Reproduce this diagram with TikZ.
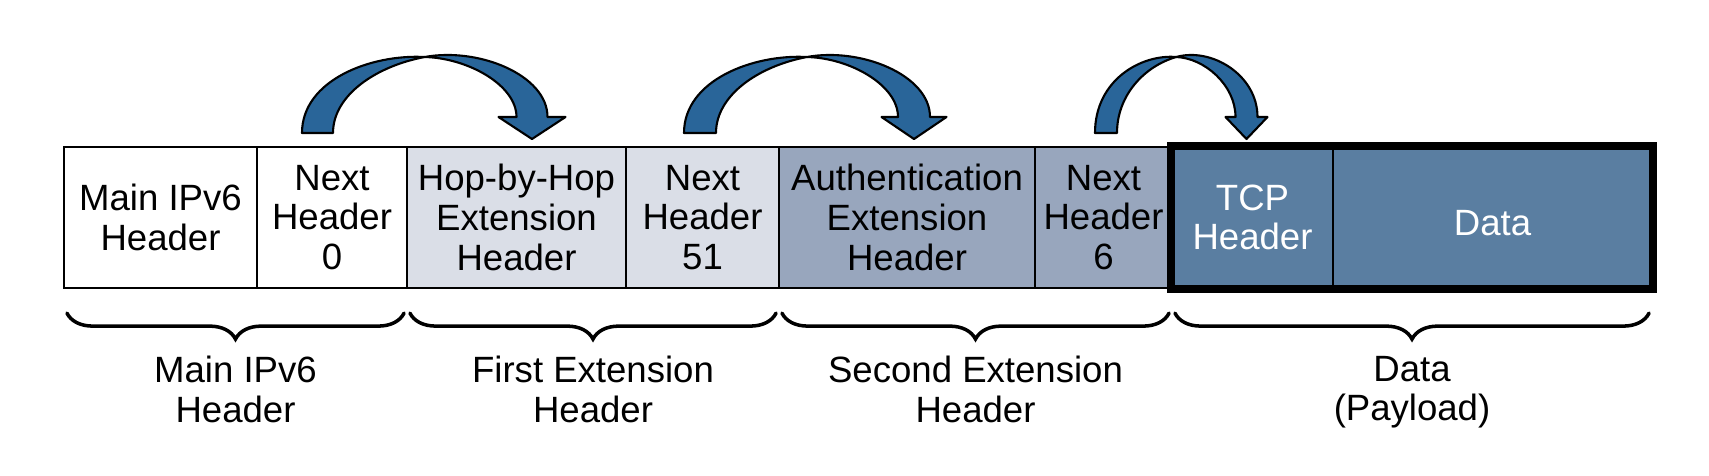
\documentclass[tikz,border=0pt]{standalone}
\usepackage{fontspec}
\setmainfont{Liberation Sans}
\usetikzlibrary{calc, decorations.pathreplacing}

\begin{document}
\begin{tikzpicture}[x=0.01cm, y=-0.01cm, font=\fontsize{10.4}{11.3}\selectfont]
    % Define local colors
    \definecolor{hdrl}{RGB}{218, 222, 231} \definecolor{hdrm}{RGB}{152, 166, 189} \definecolor{hdrd}{RGB}{90, 126, 161}
    \definecolor{arrowc}{RGB}{41, 101, 153}
    \tikzset{
        cell/.style={draw, line width=0.6pt, minimum height=1.41cm, inner sep=0pt, align=center,
            execute at begin node={\rule{0pt}{10.4pt}}},
        hoparrow/.style={fill=arrowc, draw=black, line width=0.6pt, line join=round},
        fieldbrace/.style={decorate, decoration={brace, mirror, amplitude=0.26cm}, line width=1pt, line cap=round}
    }
    \useasboundingbox (0,0) rectangle (1709,475);

    % ROW: the fields of the packet
    \foreach \name/\lx/\rx/\col/\tcol/\txt in {
        main/64/257/white/black/{Main IPv6\\Header},
        nh0/257/407/white/black/{Next\\Header\\0},
        hop/407/626/hdrl/black/{Hop-by-Hop\\Extension\\Header},
        nh51/626/779/hdrl/black/{Next\\Header\\51},
        auth/779/1035/hdrm/black/{Authentication\\Extension\\Header},
        nh6/1035/1172/hdrm/black/{Next\\Header\\6},
        tcp/1172/1333/hdrd/white/{TCP\\Header},
        data/1333/1652/hdrd/white/{Data}} {
        \node[cell, fill=\col, text=\tcol, minimum width={(\rx-\lx)*0.01cm}] (\name) at ({(\lx+\rx)/2}, 217.5) {\txt};
    }

    % Payload frame
    \draw[line width=2.4pt] (tcp.north west) rectangle (data.south east);

    % Next header arrows (twisted ribbons)
    \foreach \lx/\rx/\bw/\hw in {317.5/532/31/33.5, 700/914/32/32.5, 1106/1246.5/22/21} {
        \pgfmathsetmacro{\mx}{(\lx+\rx)/2}
        \pgfmathsetmacro{\hs}{(\rx-\lx)/2}
        % left half, up to the twist
        \draw[hoparrow] (\lx-\bw/2,133) .. controls (\lx-\bw/2,80) and (\mx-0.5*\hs,54) .. (\mx,57)
            .. controls (\mx-0.45*\hs,66) and (\lx+\bw/2,95) .. (\lx+\bw/2,133) -- cycle;
        % right half with head
        \draw[hoparrow] (\mx,57) .. controls (\mx+0.5*\hs,47) and (\rx+\bw/2,75) .. (\rx+\bw/2,117)
            -- (\rx+\hw,117) -- (\rx,139) -- (\rx-\hw,117) -- (\rx-\bw/2,117)
            .. controls (\rx-\bw/2,85) and (\mx+0.4*\hs,58) .. (\mx,57) -- cycle;
    }

    % Braces and their labels
    \foreach \a/\b/\txt in {main/nh0/{Main IPv6\\Header}, hop/nh51/{First Extension\\Header},
                            auth/nh6/{Second Extension\\Header}, tcp/data/{Data\\(Payload)}} {
        \draw[fieldbrace] ($(\a.south west)+(4,24)$) -- ($(\b.south east)+(-4,24)$)
            node[midway, below=0.41cm, align=center, inner sep=0pt] {\txt};
    }
\end{tikzpicture}
\end{document}
